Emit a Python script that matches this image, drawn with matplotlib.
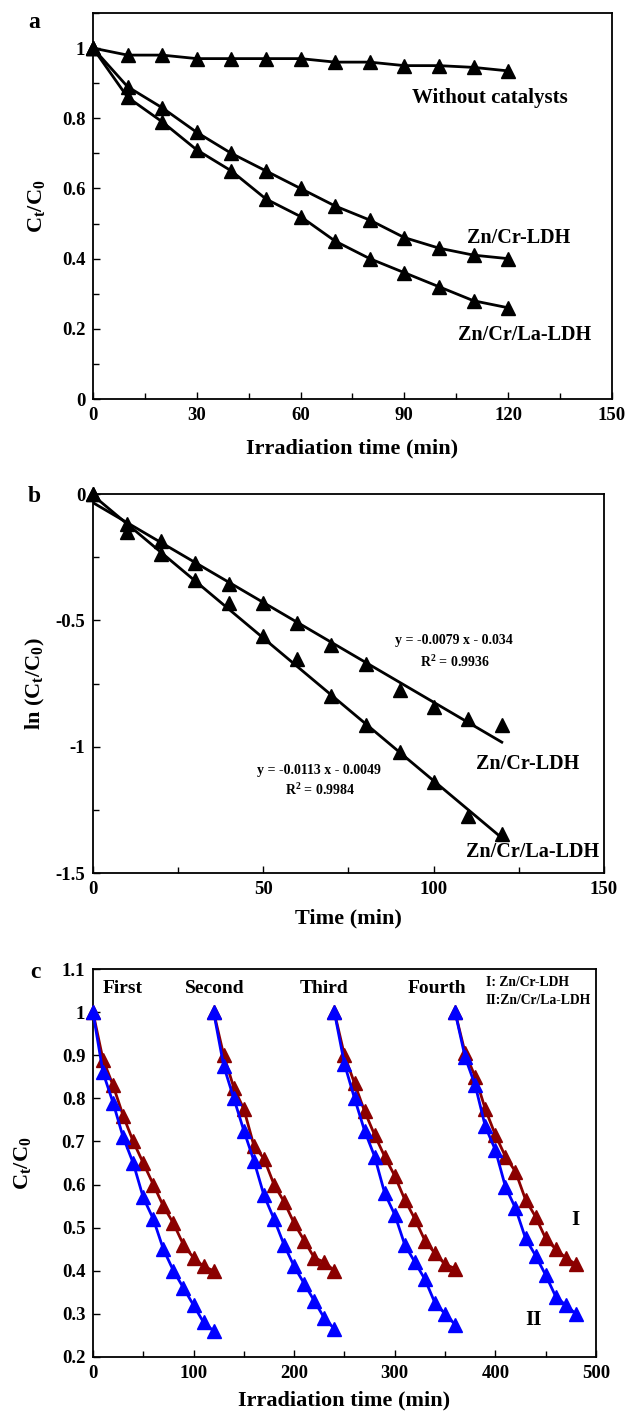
import matplotlib
matplotlib.use('Agg')
import matplotlib.pyplot as plt
from matplotlib.ticker import MultipleLocator

plt.rcParams['font.family'] = ['Liberation Serif', 'DejaVu Serif']
plt.rcParams['font.weight'] = 'bold'
plt.rcParams['mathtext.fontset'] = 'custom'
plt.rcParams['mathtext.rm'] = 'Liberation Serif:bold'
plt.rcParams['mathtext.it'] = 'Liberation Serif:bold'
plt.rcParams['mathtext.bf'] = 'Liberation Serif:bold'

# panel a: C/C0 vs time
t_a = [0, 10, 20, 30, 40, 50, 60, 70, 80, 90, 100, 110, 120]
no_cat = [1.0, 0.98, 0.98, 0.97, 0.97, 0.97, 0.97, 0.96, 0.96, 0.95, 0.95, 0.945, 0.935]
zncr = [1.0, 0.89, 0.83, 0.76, 0.70, 0.65, 0.60, 0.55, 0.51, 0.46, 0.43, 0.41, 0.40]
zncrla = [1.0, 0.86, 0.79, 0.71, 0.65, 0.57, 0.52, 0.45, 0.40, 0.36, 0.32, 0.28, 0.26]

# panel b: ln(C/C0) and linear fits
ln_zncr = [0.0, -0.117, -0.186, -0.274, -0.357, -0.431, -0.511, -0.598, -0.673, -0.777, -0.844, -0.892, -0.916]
ln_zncrla = [0.0, -0.151, -0.236, -0.342, -0.431, -0.562, -0.654, -0.799, -0.916, -1.022, -1.139, -1.273, -1.347]
fit_zncr = (-0.0079, -0.034)
fit_zncrla = (-0.0113, -0.0049)
fit_x = [0, 120]

# panel c: four reuse cycles
t_c = [0, 10, 20, 30, 40, 50, 60, 70, 80, 90, 100, 110, 120]
cycle_start = [0, 120, 240, 360]
cycle_names = ['First', 'Second', 'Third', 'Fourth']
red_cycles = [
    [1.0, 0.89, 0.83, 0.76, 0.70, 0.65, 0.60, 0.55, 0.51, 0.46, 0.43, 0.41, 0.40],
    [1.0, 0.90, 0.825, 0.775, 0.69, 0.66, 0.60, 0.56, 0.51, 0.47, 0.43, 0.42, 0.40],
    [1.0, 0.90, 0.835, 0.77, 0.715, 0.665, 0.62, 0.565, 0.52, 0.47, 0.44, 0.415, 0.405],
    [1.0, 0.905, 0.85, 0.775, 0.715, 0.665, 0.63, 0.565, 0.525, 0.475, 0.45, 0.43, 0.415],
]
blue_cycles = [
    [1.0, 0.86, 0.79, 0.71, 0.65, 0.57, 0.52, 0.45, 0.40, 0.36, 0.32, 0.28, 0.26],
    [1.0, 0.875, 0.80, 0.725, 0.655, 0.575, 0.52, 0.46, 0.41, 0.37, 0.33, 0.29, 0.265],
    [1.0, 0.88, 0.80, 0.725, 0.665, 0.58, 0.53, 0.46, 0.42, 0.38, 0.325, 0.30, 0.275],
    [1.0, 0.895, 0.83, 0.735, 0.68, 0.595, 0.545, 0.475, 0.435, 0.39, 0.34, 0.32, 0.30],
]

fig = plt.figure(figsize=(6.28, 14.12), dpi=100)
ax1 = fig.add_axes([0.148, 0.7174, 0.8265, 0.2734])
ax2 = fig.add_axes([0.148, 0.3817, 0.8138, 0.2684])
ax3 = fig.add_axes([0.148, 0.0390, 0.8010, 0.2747])


def style(ax):
    for s in ax.spines.values():
        s.set_linewidth(1.3)
    ax.tick_params(which='both', direction='in', top=False, right=False, labelsize=13.5, pad=5.5)
    ax.tick_params(which='major', length=5, width=1)
    ax.tick_params(which='minor', length=4, width=1)
    for lab in ax.get_xticklabels() + ax.get_yticklabels():
        lab.set_fontweight('bold')


# ---- a ----
for y in [no_cat, zncr, zncrla]:
    ax1.plot(t_a, y, color='black', lw=2, marker='^', ms=10, clip_on=False, zorder=3)
ax1.set_xlim(0, 150)
ax1.set_ylim(0, 1.1)
ax1.xaxis.set_major_locator(MultipleLocator(30))
ax1.xaxis.set_minor_locator(MultipleLocator(15))
ax1.yaxis.set_minor_locator(MultipleLocator(0.1))
ax1.set_yticks([0, 0.2, 0.4, 0.6, 0.8, 1.0])
ax1.set_yticklabels(['0', '0.2', '0.4', '0.6', '0.8', '1'])
ax1.set_xlabel('Irradiation time (min)', fontsize=16, fontweight='bold')
ax1.set_ylabel('C$_t$/C$_0$', fontsize=16, fontweight='bold')
ax1.xaxis.set_label_coords(0.5, -0.101)
ax1.yaxis.set_label_coords(-0.088, 0.5)
ax1.text(114.7, 0.858, 'Without catalysts', fontsize=15, fontweight='bold', ha='center', va='center')
ax1.text(123.1, 0.459, 'Zn/Cr-LDH', fontsize=14.5, fontweight='bold', ha='center', va='center')
ax1.text(124.7, 0.182, 'Zn/Cr/La-LDH', fontsize=14.5, fontweight='bold', ha='center', va='center')
style(ax1)

# ---- b ----
ax2.plot(t_a, ln_zncr, ls='none', color='black', marker='^', ms=10, clip_on=False, zorder=3)
ax2.plot(t_a, ln_zncrla, ls='none', color='black', marker='^', ms=10, clip_on=False, zorder=3)
for m, c in [fit_zncr, fit_zncrla]:
    ax2.plot(fit_x, [m * x + c for x in fit_x], color='black', lw=2)
ax2.set_xlim(0, 150)
ax2.set_ylim(-1.5, 0)
ax2.xaxis.set_major_locator(MultipleLocator(50))
ax2.xaxis.set_minor_locator(MultipleLocator(25))
ax2.yaxis.set_minor_locator(MultipleLocator(0.25))
ax2.set_yticks([-1.5, -1, -0.5, 0])
ax2.set_yticklabels(['-1.5', '-1', '-0.5', '0'])
ax2.set_xlabel('Time (min)', fontsize=16, fontweight='bold')
ax2.set_ylabel('ln (C$_t$/C$_0$)', fontsize=16, fontweight='bold')
ax2.xaxis.set_label_coords(0.5, -0.0923)
ax2.yaxis.set_label_coords(-0.090, 0.5)
ax2.text(106, -0.578, 'y = -0.0079 x - 0.034', fontsize=10, fontweight='bold', ha='center', va='center')
ax2.text(106.3, -0.665, 'R$^2$ = 0.9936', fontsize=10, fontweight='bold', ha='center', va='center')
ax2.text(66.3, -1.093, 'y = -0.0113 x - 0.0049', fontsize=10, fontweight='bold', ha='center', va='center')
ax2.text(66.6, -1.171, 'R$^2$ = 0.9984', fontsize=10, fontweight='bold', ha='center', va='center')
ax2.text(127.7, -1.069, 'Zn/Cr-LDH', fontsize=14.5, fontweight='bold', ha='center', va='center')
ax2.text(129.1, -1.418, 'Zn/Cr/La-LDH', fontsize=14.5, fontweight='bold', ha='center', va='center')
style(ax2)

# ---- c ----
red = '#8B0000'
blue = '#0000FF'
for start, r, b in zip(cycle_start, red_cycles, blue_cycles):
    x = [start + t for t in t_c]
    ax3.plot(x, r, color=red, lw=2, marker='^', ms=10, clip_on=False, zorder=3)
    ax3.plot(x, b, color=blue, lw=2, marker='^', ms=10, clip_on=False, zorder=4)
ax3.set_xlim(0, 500)
ax3.set_ylim(0.2, 1.1)
ax3.xaxis.set_major_locator(MultipleLocator(100))
ax3.xaxis.set_minor_locator(MultipleLocator(50))
ax3.set_yticks([0.2, 0.3, 0.4, 0.5, 0.6, 0.7, 0.8, 0.9, 1.0, 1.1])
ax3.set_yticklabels(['0.2', '0.3', '0.4', '0.5', '0.6', '0.7', '0.8', '0.9', '1', '1.1'])
ax3.set_xlabel('Irradiation time (min)', fontsize=16, fontweight='bold')
ax3.set_ylabel('C$_t$/C$_0$', fontsize=16, fontweight='bold')
ax3.xaxis.set_label_coords(0.5, -0.0876)
ax3.yaxis.set_label_coords(-0.119, 0.5)
name_x = [29.8, 121, 229.7, 342.4]
for nx, name in zip(name_x, cycle_names):
    ax3.text(nx, 1.056, name, fontsize=14, fontweight='bold', ha='center', va='center')
ax3.text(390.7, 1.068, 'I: Zn/Cr-LDH', fontsize=9.8, fontweight='bold', ha='left', va='center')
ax3.text(390.7, 1.028, 'II:Zn/Cr/La-LDH', fontsize=9.8, fontweight='bold', ha='left', va='center')
ax3.text(480, 0.518, 'I', fontsize=15, fontweight='bold', ha='center', va='center')
ax3.text(438, 0.286, 'II', fontsize=15, fontweight='bold', ha='center', va='center')
style(ax3)

# panel letters
fig.text(34 / 628, 1 - 23 / 1412, 'a', fontsize=17, fontweight='bold', ha='center', va='center')
fig.text(34 / 628, 1 - 497 / 1412, 'b', fontsize=17, fontweight='bold', ha='center', va='center')
fig.text(35 / 628, 1 - 972 / 1412, 'c', fontsize=17, fontweight='bold', ha='center', va='center')

fig.savefig('out.png', dpi=100)
